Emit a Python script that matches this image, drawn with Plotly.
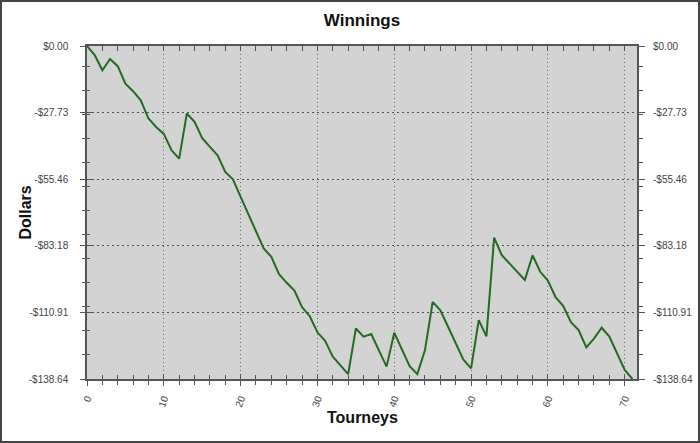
import plotly.graph_objects as go

# Data
tourneys = list(range(72))
winnings = [
    0.0, -3.8, -10.1, -5.4, -8.4, -15.7, -18.8, -22.6, -30.2, -33.7,
    -36.6, -43.4, -46.9, -28.1, -31.6, -38.4, -42.0, -45.5, -52.4, -55.5,
    -62.8, -70.0, -77.3, -84.3, -87.8, -95.0, -98.6, -101.8, -108.7, -112.5,
    -119.2, -122.7, -129.3, -133.0, -136.6, -117.6, -121.0, -119.9, -126.7, -133.5,
    -119.4, -126.6, -133.3, -136.6, -126.6, -106.5, -110.0, -116.9, -123.8, -130.6,
    -134.2, -114.1, -120.9, -79.8, -87.1, -90.5, -94.0, -97.4, -87.1, -94.0,
    -97.7, -104.6, -108.3, -115.0, -118.3, -125.5, -121.8, -117.3, -121.0, -128.0,
    -134.9, -138.64,
]
y_ticks = [0.0, -27.73, -55.46, -83.18, -110.91, -138.64]
y_labels = ["$0.00", "-$27.73", "-$55.46", "-$83.18", "-$110.91", "-$138.64"]
x_ticks = [0, 10, 20, 30, 40, 50, 60, 70]

FONT = "Arial, Liberation Sans, sans-serif"
AX = "#555555"
x_range = [0, 71.6]
y_range = [-138.64, 0]

fig = go.Figure()
fig.add_trace(go.Scatter(x=tourneys, y=winnings, mode="lines",
                         line=dict(color="#236b23", width=2),
                         hoverinfo="skip", showlegend=False))
# invisible helpers so the extra tick axes get drawn
for xa, ya in (("x2", "y2"), ("x3", "y3")):
    fig.add_trace(go.Scatter(x=tourneys, y=winnings, mode="lines", xaxis=xa, yaxis=ya,
                             line=dict(width=0), opacity=0,
                             hoverinfo="skip", showlegend=False))

tickfont = dict(family=FONT, size=10, color="#444444")

fig.update_layout(
    template="none",
    width=700, height=443,
    margin=dict(l=87, r=63, t=46, b=64, autoexpand=False),
    paper_bgcolor="white", plot_bgcolor="#d3d3d3",
    font=dict(family=FONT),
    title=dict(text="<b>Winnings</b>", x=0.5, xref="paper", xanchor="center",
               y=1 - 20 / 443, yanchor="middle",
               font=dict(family=FONT, size=17, color="#111111")),
    xaxis=dict(range=x_range, tickmode="array", tickvals=x_ticks, tickangle=-70,
               tickfont=dict(family=FONT, size=10, color="#444444"),
               ticks="outside", ticklen=5, tickcolor=AX, ticklabelstandoff=3,
               minor=dict(tickmode="linear", tick0=0, dtick=2, ticks="outside",
                          ticklen=4, tickcolor=AX, showgrid=False),
               showline=True, linecolor=AX, linewidth=1.5, mirror=True,
               showgrid=True, gridcolor="#6a6a6a", griddash="1px,3px", gridwidth=1,
               zeroline=False, fixedrange=True, automargin=False),
    yaxis=dict(range=y_range, tickmode="array", tickvals=y_ticks, ticktext=y_labels,
               tickfont=tickfont, ticks="outside", ticklen=5, tickcolor=AX,
               ticklabelstandoff=10,
               minor=dict(tickmode="linear", tick0=-138.64, dtick=10, ticks="outside",
                          ticklen=3, tickcolor=AX, showgrid=False),
               showline=True, linecolor=AX, linewidth=1.5, mirror=True,
               showgrid=True, gridcolor="#505050", griddash="2px,3px", gridwidth=1,
               zeroline=False, fixedrange=True, automargin=False),
    # inside ticks along the bottom
    xaxis2=dict(range=x_range, overlaying="x", anchor="y2", side="bottom",
                tickmode="array", tickvals=x_ticks, showticklabels=False,
                ticks="inside", ticklen=5, tickcolor=AX,
                minor=dict(tickmode="linear", tick0=0, dtick=2, ticks="inside",
                           ticklen=4, tickcolor=AX, showgrid=False),
                showgrid=False, zeroline=False, showline=False, fixedrange=True,
                automargin=False),
    # inside ticks along the left
    yaxis2=dict(range=y_range, overlaying="y", anchor="x2", side="left",
                tickmode="array", tickvals=y_ticks, showticklabels=False,
                ticks="inside", ticklen=5, tickcolor=AX,
                minor=dict(tickmode="linear", tick0=-138.64, dtick=10, ticks="inside",
                           ticklen=3, tickcolor=AX, showgrid=False),
                showgrid=False, zeroline=False, showline=False, fixedrange=True,
                automargin=False),
    # inside ticks along the top
    xaxis3=dict(range=x_range, overlaying="x", anchor="y3", side="top",
                tickmode="array", tickvals=x_ticks, showticklabels=False,
                ticks="inside", ticklen=5, tickcolor=AX,
                minor=dict(tickmode="linear", tick0=0, dtick=2, ticks="inside",
                           ticklen=5, tickcolor=AX, showgrid=False),
                showgrid=False, zeroline=False, showline=False, fixedrange=True,
                automargin=False),
    # labelled axis on the right
    yaxis3=dict(range=y_range, overlaying="y", anchor="x3", side="right",
                tickmode="array", tickvals=y_ticks, ticktext=y_labels,
                tickfont=tickfont, ticks="outside", ticklen=7, tickcolor=AX,
                ticklabelstandoff=6,
                minor=dict(tickmode="linear", tick0=-138.64, dtick=10, ticks="outside",
                           ticklen=5, tickcolor=AX, showgrid=False),
                showgrid=False, zeroline=False, showline=False, fixedrange=True,
                automargin=False),
)

plot_w = 700 - 87 - 63
plot_h = 443 - 46 - 64

fig.add_annotation(text="<b>Dollars</b>", textangle=-90, showarrow=False,
                   xref="paper", yref="paper", x=(25 - 87) / plot_w, y=0.5,
                   xanchor="center", yanchor="middle",
                   font=dict(family=FONT, size=16, color="#111111"))
fig.add_annotation(text="<b>Tourneys</b>", showarrow=False,
                   xref="paper", yref="paper", x=0.5, y=-(418 - 379) / plot_h,
                   xanchor="center", yanchor="middle",
                   font=dict(family=FONT, size=16, color="#111111"))

# dark frame round the whole picture
fig.add_shape(type="rect", xref="paper", yref="paper",
              x0=-86 / plot_w, x1=(700 - 88) / plot_w,
              y0=-(443 - 379 - 1) / plot_h, y1=1 + 45 / plot_h,
              line=dict(color="#444444", width=2), layer="above")

# the page's default body margin would push the figure 8px off the window
fig.write_html("out.html", config=dict(displayModeBar=False),
               post_script="document.body.style.margin='0';"
                           "document.body.style.overflow='hidden';")
